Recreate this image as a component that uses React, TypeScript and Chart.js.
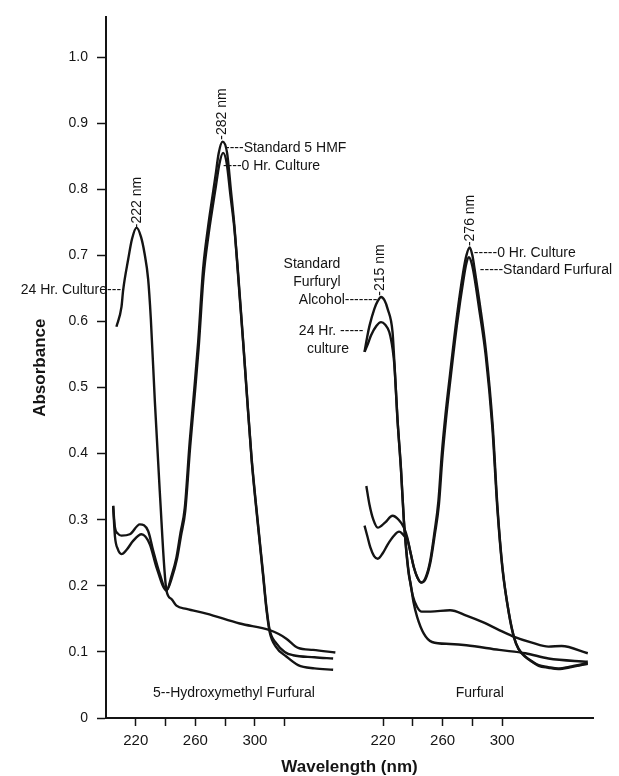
import React, { useEffect, useRef } from "react";
import { Chart, registerables } from "chart.js";

Chart.register(...registerables);

// ---------- axis data ----------
const PANEL_OFFSET = 166; // right (Furfural) panel is drawn shifted along the shared x axis
const X_MIN = 200;
const X_MAX = 527;
const Y_MIN = 0;
const Y_MAX = 1.06;
const Y_TICKS = [0, 0.1, 0.2, 0.3, 0.4, 0.5, 0.6, 0.7, 0.8, 0.9, 1.0];
const X_TICKS_LEFT_NM = [220, 240, 260, 280, 300, 320];
const X_TICKS_RIGHT_NM = [220, 240, 260, 280, 300];
const X_LABELED_NM = [220, 260, 300];

// ---------- 5-Hydroxymethyl Furfural panel ----------
const HMF_24H_NM = [207, 210.4, 211.5, 214.9, 217.5, 220.5, 223.5, 225.8, 228.3, 230.1, 232.8, 236.1, 240.6, 244, 247.3, 254, 267.4, 289.8, 309.9, 316, 321.1, 329, 339, 354];
const HMF_24H_ABS = [0.592, 0.622, 0.647, 0.694, 0.725, 0.742, 0.728, 0.704, 0.664, 0.604, 0.479, 0.343, 0.193, 0.18, 0.17, 0.165, 0.158, 0.143, 0.133, 0.127, 0.12, 0.106, 0.103, 0.099];

const HMF_STD_NM = [204.8, 205.9, 208, 210.4, 216, 222.7, 228.3, 231.7, 236.1, 240.6, 244, 247.3, 250, 252.9, 256.2, 259, 261.9, 265.2, 268.6, 270.8, 273.5, 275.7, 278.3, 281.3, 283.8, 286.2, 289.8, 292.1, 294.3, 297.7, 302.1, 305.5, 307.7, 309.9, 314.4, 320, 325.6, 340, 352.5];
const HMF_STD_ABS = [0.321, 0.29, 0.279, 0.276, 0.278, 0.293, 0.283, 0.253, 0.218, 0.193, 0.215, 0.243, 0.28, 0.318, 0.418, 0.49, 0.569, 0.679, 0.744, 0.779, 0.82, 0.855, 0.872, 0.855, 0.8, 0.745, 0.64, 0.57, 0.5, 0.395, 0.293, 0.218, 0.168, 0.133, 0.113, 0.1, 0.095, 0.092, 0.09];

const HMF_0H_NM = [204.8, 206, 208, 210.4, 214, 218.2, 223.8, 229.4, 233.9, 240.6, 244.2, 247.6, 250.3, 253.2, 256.5, 259.3, 262.2, 265.5, 268.9, 271.1, 273.8, 276.1, 278.6, 281, 283.6, 286.3, 289.9, 292.2, 294.4, 297.8, 302.1, 305.5, 307.7, 309.9, 314, 321.1, 329, 340, 352.5];
const HMF_0H_ABS = [0.321, 0.275, 0.255, 0.248, 0.255, 0.268, 0.278, 0.263, 0.228, 0.193, 0.212, 0.24, 0.275, 0.313, 0.41, 0.482, 0.56, 0.668, 0.732, 0.766, 0.805, 0.838, 0.855, 0.84, 0.79, 0.738, 0.633, 0.565, 0.495, 0.39, 0.29, 0.215, 0.165, 0.13, 0.108, 0.093, 0.08, 0.075, 0.073];

// ---------- Furfural panel ----------
const FAL_STD_NM = [207.6, 209.5, 211, 214.2, 216.5, 218.7, 221, 223.1, 226.4, 227.6, 229.8, 232, 234, 235.6, 237.4, 240, 242.9, 246, 252, 265, 276, 287, 298, 306.8, 320, 331.1, 339.9, 357.5];
const FAL_STD_ABS = [0.554, 0.578, 0.594, 0.619, 0.631, 0.637, 0.632, 0.619, 0.584, 0.54, 0.45, 0.38, 0.3, 0.255, 0.218, 0.185, 0.168, 0.161, 0.161, 0.163, 0.155, 0.145, 0.133, 0.124, 0.114, 0.108, 0.109, 0.098];

const FUR_24H_NM = [207.6, 210, 212, 215.5, 218.7, 221.5, 224.2, 226.4, 227.6, 229.8, 232, 234, 235.6, 237.4, 238.5, 240.5, 242.9, 247.3, 252.9, 265, 276, 298, 315.7, 331.1, 357.5];
const FUR_24H_ABS = [0.554, 0.567, 0.579, 0.593, 0.599, 0.595, 0.584, 0.559, 0.535, 0.448, 0.378, 0.298, 0.253, 0.216, 0.204, 0.175, 0.153, 0.128, 0.115, 0.112, 0.11, 0.103, 0.098, 0.09, 0.085];

const FUR_0H_NM = [208.8, 210.9, 213.5, 216.5, 221.5, 226.4, 230.5, 234.1, 236.3, 238.5, 240.7, 243, 245.6, 248.5, 251.7, 254.5, 257.2, 259.5, 262, 265, 269.4, 273.8, 276, 278.2, 280, 281.5, 284.8, 289.2, 293.6, 296.9, 300.2, 304.6, 307.9, 311, 315.7, 320, 324.5, 331, 337.7, 346.5, 357.5];
const FUR_0H_ABS = [0.351, 0.323, 0.3, 0.288, 0.296, 0.306, 0.3, 0.288, 0.273, 0.25, 0.228, 0.213, 0.205, 0.212, 0.238, 0.28, 0.328, 0.4, 0.46, 0.52, 0.604, 0.674, 0.7, 0.712, 0.7, 0.679, 0.629, 0.554, 0.444, 0.318, 0.228, 0.158, 0.123, 0.105, 0.093, 0.086, 0.08, 0.077, 0.075, 0.078, 0.083];

const FUR_STD_NM = [207.6, 209.5, 211.5, 214, 216.5, 220, 223, 227, 230.8, 234.1, 236.3, 238.5, 240.7, 243, 245.6, 248.5, 251.7, 254.8, 257.5, 259.8, 262.3, 265.3, 269.7, 274, 276, 277.7, 279.5, 281.3, 284.5, 289, 293.4, 296.8, 300.2, 304.6, 307.9, 311, 315.7, 320, 324.5, 331, 337.7, 346.5, 357.5];
const FUR_STD_ABS = [0.291, 0.275, 0.258, 0.245, 0.241, 0.25, 0.262, 0.275, 0.282, 0.276, 0.27, 0.25, 0.228, 0.213, 0.205, 0.21, 0.234, 0.278, 0.322, 0.392, 0.452, 0.513, 0.596, 0.663, 0.688, 0.697, 0.688, 0.668, 0.62, 0.548, 0.44, 0.316, 0.226, 0.157, 0.122, 0.104, 0.092, 0.085, 0.079, 0.076, 0.074, 0.077, 0.082];

// ---------- text annotations (axis units; right panel values already include the offset) ----------
const ANNOTATIONS = [
  { text: "-222 nm", x: 220.8, y: 0.741, align: "left", rotate: true },
  { text: "-282 nm", x: 277.9, y: 0.875, align: "left", rotate: true },
  { text: "----Standard 5 HMF", x: 279.9, y: 0.862, align: "left", rotate: false },
  { text: "----0 Hr. Culture", x: 278.5, y: 0.835, align: "left", rotate: false },
  { text: "24 Hr. Culture---", x: 210.1, y: 0.647, align: "right", rotate: false },
  { text: "Standard", x: 338.3, y: 0.686, align: "center", rotate: false },
  { text: "Furfuryl", x: 341.6, y: 0.66, align: "center", rotate: false },
  { text: "Alcohol-------", x: 329.5, y: 0.632, align: "left", rotate: false },
  { text: "24 Hr. -----", x: 329.5, y: 0.585, align: "left", rotate: false },
  { text: "culture", x: 334.9, y: 0.558, align: "left", rotate: false },
  { text: "-215 nm", x: 383.9, y: 0.639, align: "left", rotate: true },
  { text: "-276 nm", x: 444.3, y: 0.714, align: "left", rotate: true },
  { text: "-----0 Hr. Culture", x: 447.0, y: 0.704, align: "left", rotate: false },
  { text: "-----Standard Furfural", x: 451.0, y: 0.677, align: "left", rotate: false },
  { text: "5--Hydroxymethyl Furfural", x: 285.9, y: 0.0376, align: "center", rotate: false },
  { text: "Furfural", x: 451.0, y: 0.0376, align: "center", rotate: false },
];

const FONT = "'Liberation Sans', Arial, Helvetica, sans-serif";
const INK = "#141414";

function toPoints(nm: number[], abs: number[], offset: number) {
  return nm.map((w, i) => ({ x: w + offset, y: abs[i] }));
}

const SERIES = [
  { label: "24 Hr. Culture (5-HMF)", nm: HMF_24H_NM, abs: HMF_24H_ABS, offset: 0 },
  { label: "Standard 5 HMF", nm: HMF_STD_NM, abs: HMF_STD_ABS, offset: 0 },
  { label: "0 Hr. Culture (5-HMF)", nm: HMF_0H_NM, abs: HMF_0H_ABS, offset: 0 },
  { label: "Standard Furfuryl Alcohol", nm: FAL_STD_NM, abs: FAL_STD_ABS, offset: PANEL_OFFSET },
  { label: "24 Hr. culture (Furfural)", nm: FUR_24H_NM, abs: FUR_24H_ABS, offset: PANEL_OFFSET },
  { label: "0 Hr. Culture (Furfural)", nm: FUR_0H_NM, abs: FUR_0H_ABS, offset: PANEL_OFFSET },
  { label: "Standard Furfural", nm: FUR_STD_NM, abs: FUR_STD_ABS, offset: PANEL_OFFSET },
];

const X_TICK_VALUES = [
  ...X_TICKS_LEFT_NM,
  ...X_TICKS_RIGHT_NM.map((v) => v + PANEL_OFFSET),
];

const annotationPlugin = {
  id: "annotations",
  afterDatasetsDraw(chart: any) {
    const { ctx, scales } = chart;
    const xs = scales.x;
    const ys = scales.y;
    ctx.save();
    ctx.fillStyle = INK;
    ctx.font = `14px ${FONT}`;
    ctx.textBaseline = "middle";
    for (const a of ANNOTATIONS) {
      const px = xs.getPixelForValue(a.x);
      const py = ys.getPixelForValue(a.y);
      ctx.save();
      ctx.translate(px, py);
      if (a.rotate) ctx.rotate(-Math.PI / 2);
      ctx.textAlign = a.align as CanvasTextAlign;
      ctx.fillText(a.text, 0, 0);
      ctx.restore();
    }
    ctx.restore();
  },
};

export default function App() {
  const ref = useRef<HTMLCanvasElement | null>(null);

  useEffect(() => {
    if (!ref.current) return;
    Chart.defaults.font.family = FONT;
    Chart.defaults.color = INK;

    const chart = new Chart(ref.current, {
      type: "line",
      data: {
        datasets: SERIES.map((s) => ({
          label: s.label,
          data: toPoints(s.nm, s.abs, s.offset),
          borderColor: INK,
          borderWidth: 2.4,
          pointRadius: 0,
          fill: false,
          cubicInterpolationMode: "monotone" as const,
        })),
      },
      options: {
        animation: false,
        responsive: false,
        maintainAspectRatio: false,
        layout: { padding: { left: 0, top: 13, right: 26, bottom: 0 } },
        plugins: {
          legend: { display: false },
          tooltip: { enabled: false },
        },
        scales: {
          x: {
            type: "linear",
            min: X_MIN,
            max: X_MAX,
            afterBuildTicks: (s: any) => {
              s.ticks = X_TICK_VALUES.map((v) => ({ value: v }));
            },
            afterFit: (s: any) => {
              s.height = 58;
            },
            ticks: {
              autoSkip: false,
              maxRotation: 0,
              padding: 6,
              color: INK,
              font: { size: 15 },
              callback: (v: any) => {
                const val = Number(v);
                const nm = val > 350 ? val - PANEL_OFFSET : val;
                return X_LABELED_NM.includes(Math.round(nm)) ? String(Math.round(nm)) : "";
              },
            },
            grid: {
              drawOnChartArea: false,
              drawTicks: true,
              tickLength: 8,
              tickColor: INK,
              tickWidth: 1.5,
            },
            border: { display: true, color: INK, width: 2 },
            title: {
              display: true,
              text: "Wavelength (nm)",
              color: INK,
              font: { size: 17, weight: "bold", lineHeight: 1 },
              padding: { top: 0, bottom: 0 },
            },
          },
          y: {
            type: "linear",
            min: Y_MIN,
            max: Y_MAX,
            afterBuildTicks: (s: any) => {
              s.ticks = Y_TICKS.map((v) => ({ value: v }));
            },
            afterFit: (s: any) => {
              s.width = 106;
            },
            ticks: {
              padding: 9,
              color: INK,
              font: { size: 14 },
              callback: (v: any) => {
                const val = Number(v);
                return val === 0 ? "0" : val.toFixed(1);
              },
            },
            grid: {
              drawOnChartArea: false,
              drawTicks: true,
              tickLength: 9,
              tickColor: INK,
              tickWidth: 1.5,
            },
            border: { display: true, color: INK, width: 2 },
            title: {
              display: true,
              text: "Absorbance",
              color: INK,
              font: { size: 17, weight: "bold", lineHeight: 1 },
              padding: { top: 31.5, bottom: 0 },
            },
          },
        },
      },
      plugins: [annotationPlugin],
    });

    return () => chart.destroy();
  }, []);

  return (
    <div style={{ position: "absolute", left: 0, top: 0, width: 619, height: 776, background: "#fff" }}>
      <canvas ref={ref} width={619} height={776} style={{ width: 619, height: 776, display: "block" }} />
    </div>
  );
}
